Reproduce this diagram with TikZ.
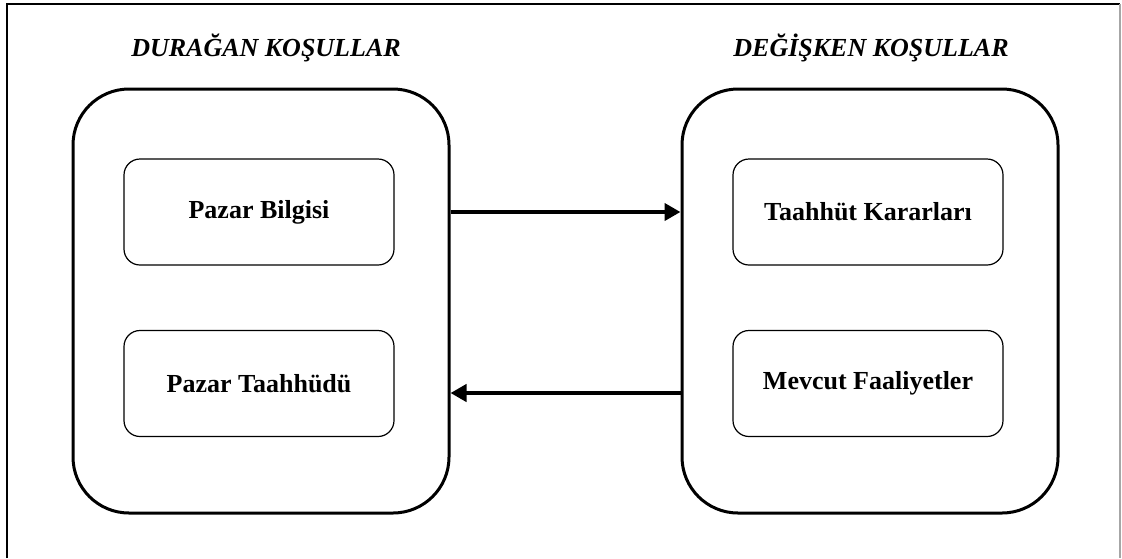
\documentclass[tikz,border=0pt]{standalone}
\usepackage{fontspec}
\setmainfont{Liberation Serif}
\usetikzlibrary{arrows.meta,positioning}

\begin{document}
\begin{tikzpicture}[x=0.5pt,y=-0.5pt,>={Triangle[length=8pt,width=8.5pt]},
                    node distance=115pt]
  \tikzstyle{outer}=[draw=black,line width=1.5pt,rounded corners=28pt,
                     minimum width=188pt,minimum height=212pt]
  \tikzstyle{inner}=[draw=black,line width=0.6pt,rounded corners=8pt,
                     minimum width=135pt,minimum height=53pt,
                     font=\fontsize{13}{15}\selectfont\bfseries]
  \tikzstyle{title}=[font=\fontsize{13}{15}\selectfont\bfseries\itshape]
  \tikzstyle{conn}=[->,line width=2pt]

  \useasboundingbox (0,0) rectangle (1122,558);
  % frame
  \draw[line width=0.8pt] (7,558) -- (7,4) -- (1120,4);
  \draw[gray!70,line width=0.8pt] (1120,4) -- (1120,558);

  \node[outer] (L) at (261,301) {};
  \node[outer] (R) [right=of L] {};

  \node[title] (tL) at (266,48) {DURAĞAN KOŞULLAR};
  \node[title] (tR) at (871,48) {DEĞİŞKEN KOŞULLAR};

  \node[inner] (pb) at (259,212)   {Pazar Bilgisi};
  \node[inner] (pt) at (259,383.5) {Pazar Taahhüdü};
  \node[inner] (tk) at (868,212)   {Taahhüt Kararları};
  \node[inner] (mf) at (868,383.5) {Mevcut Faaliyetler};

  \draw[conn] ([yshift=44.5pt]L.east) -- ([yshift=44.5pt]R.west);
  \draw[conn] ([yshift=-46pt]R.west) -- ([yshift=-46pt]L.east);
\end{tikzpicture}
\end{document}
